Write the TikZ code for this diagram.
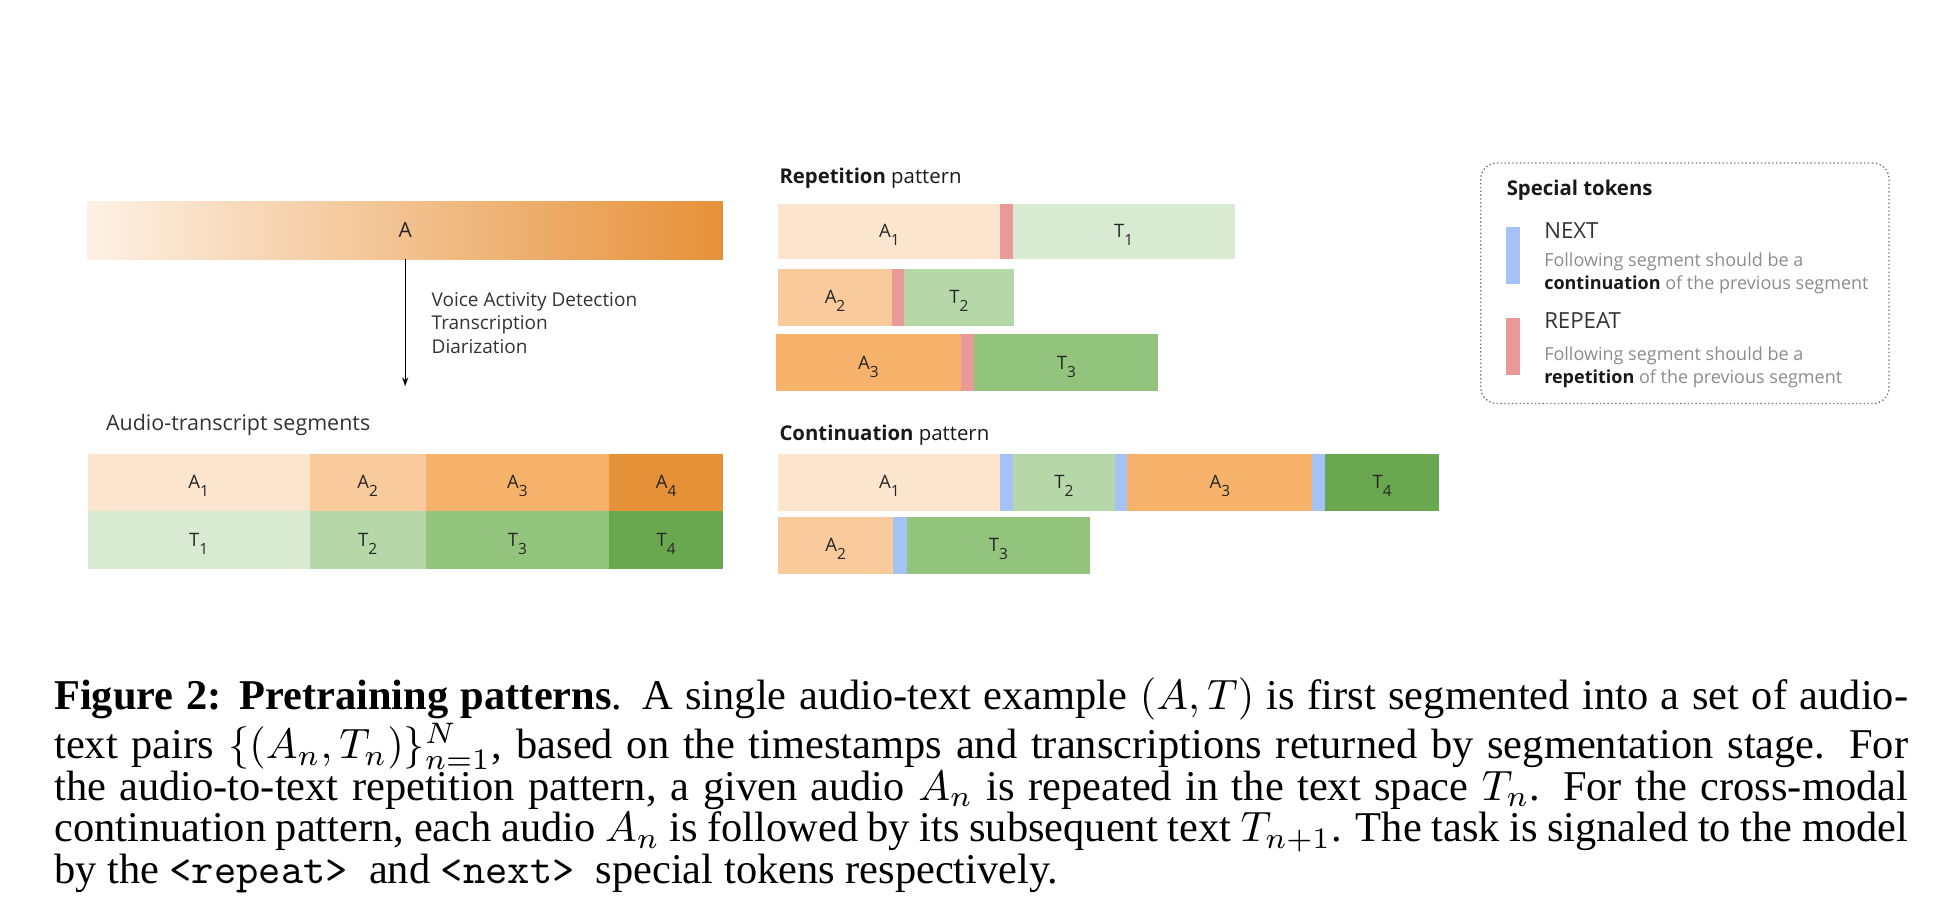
\documentclass[tikz,border=0pt]{standalone}
\usepackage{graphicx}
\usepackage{fontspec}
\setmainfont{Liberation Serif}
\newfontfamily\osans{Open Sans}
\usetikzlibrary{arrows.meta}
\definecolor{oA}{HTML}{FCE5CD}
\definecolor{oB}{HTML}{F9CB9C}
\definecolor{oC}{HTML}{F6B26B}
\definecolor{oD}{HTML}{E69138}
\definecolor{gA}{HTML}{D9EAD3}
\definecolor{gB}{HTML}{B6D7A8}
\definecolor{gC}{HTML}{93C47D}
\definecolor{gD}{HTML}{6AA84F}
\definecolor{tokR}{HTML}{EA9999}
\definecolor{tokB}{HTML}{A4C2F4}
\definecolor{oL}{HTML}{FDF1E5}
\definecolor{txtD}{HTML}{333333}
\definecolor{txtG}{HTML}{8C8C8C}
\newcommand{\segl}[2]{#1\smash{\raisebox{-6.5pt}{\fontsize{12.5}{12.5}\selectfont #2}}}
\begin{document}
\begin{tikzpicture}[x=1pt,y=-1pt,
  seg/.style={anchor=north west, inner sep=0pt, outer sep=0pt, draw=none,
    font=\osans\fontsize{15}{15}\selectfont, text=black!85},
  tok/.style={anchor=north west, inner sep=0pt, outer sep=0pt, draw=none},
  lbl/.style={anchor=base west, inner sep=0pt, outer sep=0pt, text=txtD},
  desc/.style={anchor=base west, inner sep=0pt, outer sep=0pt, text=txtG,
    font=\osans\fontsize{14.6}{14.6}\selectfont},
  conn/.style={-{Stealth[length=7pt,width=5pt]}, line width=0.9pt, black}
]
\useasboundingbox (0,0) rectangle (1568,746);

% ---- big audio bar
\node[seg, left color=oL, right color=oD, minimum width=515pt, minimum height=47pt,
  font=\osans\fontsize{17}{17}\selectfont] (abar) at (71,163) {A};
\coordinate (segtop) at (328.5,313);
\draw[conn] (abar.south) -- (segtop);
\node[lbl, font=\osans\fontsize{15.4}{15.4}\selectfont] (vad1) at (350,248.5) {Voice Activity Detection};
\node[lbl, font=\osans\fontsize{15.4}{15.4}\selectfont] (vad2) at (350,267.5) {Transcription};
\node[lbl, font=\osans\fontsize{15.4}{15.4}\selectfont] (vad3) at (350,286.5) {Diarization};

% ---- audio-transcript segments
\node[lbl, font=\osans\fontsize{17.4}{17.4}\selectfont] (segtitle) at (86,349) {Audio-transcript segments};
\node[seg, fill=oA, minimum width=180pt, minimum height=46pt] (sa1) at (71,368) {\segl{A}{1}};
\node[seg, fill=oB, minimum width=94pt, minimum height=46pt] (sa2) at (251,368) {\segl{A}{2}};
\node[seg, fill=oC, minimum width=149pt, minimum height=46pt] (sa3) at (345,368) {\segl{A}{3}};
\node[seg, fill=oD, minimum width=92pt, minimum height=46pt] (sa4) at (494,368) {\segl{A}{4}};
\node[seg, fill=gA, minimum width=180pt, minimum height=47pt] (st1) at (71,414) {\segl{T}{1}};
\node[seg, fill=gB, minimum width=94pt, minimum height=47pt] (st2) at (251,414) {\segl{T}{2}};
\node[seg, fill=gC, minimum width=149pt, minimum height=47pt] (st3) at (345,414) {\segl{T}{3}};
\node[seg, fill=gD, minimum width=92pt, minimum height=47pt] (st4) at (494,414) {\segl{T}{4}};

% ---- repetition pattern
\node[lbl, font=\osans\fontsize{16.5}{16.5}\selectfont, text=black!90] (reptitle) at (632,149) {\textbf{Repetition} pattern};
\node[seg, fill=oA, minimum width=180pt, minimum height=45pt] (ra1) at (631,165) {\segl{A}{1}};
\node[tok, fill=tokR, minimum width=10pt, minimum height=45pt] (rr1) at (811,165) {};
\node[seg, fill=gA, minimum width=180pt, minimum height=45pt] (rt1) at (821,165) {\segl{T}{1}};
\node[seg, fill=oB, minimum width=92pt, minimum height=46pt] (ra2) at (631,218) {\segl{A}{2}};
\node[tok, fill=tokR, minimum width=10pt, minimum height=46pt] (rr2) at (723,218) {};
\node[seg, fill=gB, minimum width=89pt, minimum height=46pt] (rt2) at (733,218) {\segl{T}{2}};
\node[seg, fill=oC, minimum width=150pt, minimum height=46pt] (ra3) at (629,271) {\segl{A}{3}};
\node[tok, fill=tokR, minimum width=11pt, minimum height=46pt] (rr3) at (779,271) {};
\node[seg, fill=gC, minimum width=149pt, minimum height=46pt] (rt3) at (790,271) {\segl{T}{3}};

% ---- continuation pattern
\node[lbl, font=\osans\fontsize{16.5}{16.5}\selectfont, text=black!90] (contitle) at (632,357) {\textbf{Continuation} pattern};
\node[seg, fill=oA, minimum width=180pt, minimum height=46pt] (ca1) at (631,368) {\segl{A}{1}};
\node[tok, fill=tokB, minimum width=10pt, minimum height=46pt] (cb1) at (811,368) {};
\node[seg, fill=gB, minimum width=83pt, minimum height=46pt] (ct2) at (821,368) {\segl{T}{2}};
\node[tok, fill=tokB, minimum width=10pt, minimum height=46pt] (cb2) at (904,368) {};
\node[seg, fill=oC, minimum width=150pt, minimum height=46pt] (ca3) at (914,368) {\segl{A}{3}};
\node[tok, fill=tokB, minimum width=10pt, minimum height=46pt] (cb3) at (1064,368) {};
\node[seg, fill=gD, minimum width=93pt, minimum height=46pt] (ct4) at (1074,368) {\segl{T}{4}};
\node[seg, fill=oB, minimum width=93pt, minimum height=46pt] (ca2) at (631,419) {\segl{A}{2}};
\node[tok, fill=tokB, minimum width=11pt, minimum height=46pt] (cb4) at (724,419) {};
\node[seg, fill=gC, minimum width=149pt, minimum height=46pt] (ct3) at (735,419) {\segl{T}{3}};

% ---- special tokens legend
\node[anchor=north west, draw=black!55, dotted, line width=1.1pt, rounded corners=13pt,
  minimum width=331pt, minimum height=195pt, inner sep=0pt] (legend) at (1200,131.6) {};
\node[lbl, font=\osans\bfseries\fontsize{16.5}{16.5}\selectfont, text=black!90] (legtitle) at (1221.6,158.8) {Special tokens};
\node[tok, fill=tokB, minimum width=11pt, minimum height=46pt] (lnext) at (1221,184) {};
\node[lbl, font=\osans\fontsize{18}{18}\selectfont] (nexttxt) at (1252,193) {NEXT};
\node[desc] (nextd1) at (1252,215.8) {Following segment should be a};
\node[desc] (nextd2) at (1252,234.6) {\textcolor{black!90}{\bfseries continuation} of the previous segment};
\node[tok, fill=tokR, minimum width=11pt, minimum height=46pt] (lrep) at (1221,258) {};
\node[lbl, font=\osans\fontsize{18}{18}\selectfont] (reptxt) at (1252,266) {REPEAT};
\node[desc] (repd1) at (1252,292) {Following segment should be a};
\node[desc] (repd2) at (1252,310.6) {\textcolor{black!90}{\bfseries repetition} of the previous segment};

% ---- caption
\node[anchor=north west, inner sep=0pt, outer sep=0pt] (caption) at (44,549.7) {\resizebox{1503pt}{!}{\parbox{437pt}{\fontsize{10}{9.8}\selectfont\lineskiplimit=0pt\lineskip=0.6pt\emergencystretch=2em
\textbf{Figure 2: Pretraining patterns}. A single audio-text example $(A,T)$ is first segmented into a set of audio-\linebreak text pairs $\{(A_n,T_n)\}_{n=1}^N$, based on the timestamps and transcriptions returned by segmentation stage. For\linebreak the audio-to-text repetition pattern, a given audio $A_n$ is repeated in the text space $T_n$. For the cross-modal\linebreak continuation pattern, each audio $A_n$ is followed by its subsequent text $T_{n+1}$. The task is signaled to the model\linebreak by the \texttt{<repeat>}~ and \texttt{<next>}~ special tokens respectively.}}};
\end{tikzpicture}
\end{document}
